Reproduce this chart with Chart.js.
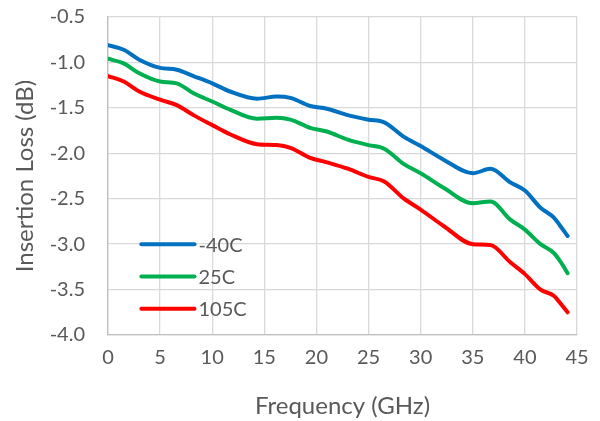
<!DOCTYPE html>
<html lang="en">
<head>
    <meta charset="UTF-8">
    <title>Insertion Loss vs Frequency</title>
    <script src="https://cdn.jsdelivr.net/npm/chart.js"></script>
    <style>
        html, body { margin: 0; padding: 0; background: #fff; }
        .chart-container { width: 600px; height: 421px; position: relative; }
    </style>
</head>
<body>
    <div class="chart-container">
        <canvas id="ilChart"></canvas>
    </div>

    <script>
        // frequency points (GHz) and insertion loss (dB) per temperature
        const freq = [0, 1.5, 3, 5, 6.6, 8.2, 10, 11.7, 14.3, 16.2, 17.5, 19.4, 21, 23, 25, 26.5, 28.4, 30, 32.2, 35, 36.7, 38.6, 40, 41.5, 42.8, 43.4, 44.1];
        const lossM40 = [-0.81, -0.86, -0.97, -1.06, -1.08, -1.15, -1.23, -1.32, -1.40, -1.375, -1.39, -1.48, -1.51, -1.58, -1.63, -1.66, -1.82, -1.92, -2.07, -2.22, -2.17, -2.32, -2.41, -2.60, -2.71, -2.80, -2.91];
        const loss25 = [-0.96, -1.01, -1.12, -1.21, -1.23, -1.34, -1.43, -1.52, -1.62, -1.61, -1.63, -1.72, -1.76, -1.85, -1.91, -1.95, -2.12, -2.22, -2.38, -2.55, -2.53, -2.73, -2.84, -3.00, -3.10, -3.19, -3.32];
        const loss105 = [-1.15, -1.21, -1.32, -1.41, -1.47, -1.58, -1.69, -1.79, -1.90, -1.91, -1.94, -2.05, -2.10, -2.17, -2.26, -2.31, -2.50, -2.62, -2.80, -3.00, -3.01, -3.20, -3.33, -3.50, -3.57, -3.65, -3.75];
        const seriesNames = ['-40C', '25C', '105C'];
        const xTicks = [0, 5, 10, 15, 20, 25, 30, 35, 40, 45];
        const yTicks = [-0.5, -1.0, -1.5, -2.0, -2.5, -3.0, -3.5, -4.0];

        const colors = ['#0070C0', '#00B050', '#FF0000'];
        const textColor = '#595959';
        const fontFamily = 'Lato, "Open Sans", sans-serif';

        function toPoints(ys) {
            return freq.map((f, i) => ({ x: f, y: ys[i] }));
        }

        // legend drawn inside the plot area, lower left
        const insideLegend = {
            id: 'insideLegend',
            afterDraw(chart) {
                const ctx = chart.ctx;
                const xs = chart.scales.x, ys = chart.scales.y;
                ctx.save();
                ctx.font = '20px ' + fontFamily;
                ctx.textBaseline = 'middle';
                chart.data.datasets.forEach((ds, i) => {
                    const y = ys.getPixelForValue(-3.0 + i * -0.355);
                    const x0 = xs.getPixelForValue(3.2);
                    const x1 = xs.getPixelForValue(8.3);
                    ctx.strokeStyle = ds.borderColor;
                    ctx.lineWidth = 4;
                    ctx.lineCap = 'round';
                    ctx.beginPath();
                    ctx.moveTo(x0, y);
                    ctx.lineTo(x1, y);
                    ctx.stroke();
                    ctx.fillStyle = textColor;
                    ctx.fillText(ds.label, x1 + 4, y + 1);
                });
                ctx.restore();
            }
        };

        const ctx = document.getElementById('ilChart').getContext('2d');
        new Chart(ctx, {
            type: 'line',
            data: {
                datasets: [lossM40, loss25, loss105].map((d, i) => ({
                    label: seriesNames[i],
                    data: toPoints(d),
                    borderColor: colors[i],
                    backgroundColor: colors[i],
                    borderWidth: 4,
                    pointRadius: 0,
                    tension: 0.4,
                    cubicInterpolationMode: 'monotone',
                    borderCapStyle: 'round'
                }))
            },
            options: {
                responsive: true,
                maintainAspectRatio: false,
                animation: false,
                layout: { padding: { top: 17, right: 23, left: 0, bottom: 0 } },
                plugins: {
                    legend: { display: false },
                    tooltip: { enabled: false }
                },
                scales: {
                    x: {
                        type: 'linear',
                        min: 0, max: 45,
                        afterBuildTicks: s => { s.ticks = xTicks.map(v => ({ value: v })); },
                        afterFit: s => { s.height = 86; },
                        // tickLength (invisible) spaces the labels; ticks.padding would also pad the plot
                        grid: { color: '#D9D9D9', lineWidth: 1.3, tickLength: 11, tickColor: 'rgba(0,0,0,0)' },
                        border: { color: '#BFBFBF', width: 1.3 },
                        ticks: { color: textColor, font: { family: fontFamily, size: 20 }, padding: 0, maxRotation: 0 },
                        title: { display: true, text: 'Frequency (GHz)', color: textColor, font: { family: fontFamily, size: 24 }, padding: 0 }
                    },
                    y: {
                        min: -4.0, max: -0.5,
                        afterBuildTicks: s => { s.ticks = yTicks.map(v => ({ value: v })); },
                        afterFit: s => { s.width = 108; },
                        grid: { color: '#D9D9D9', lineWidth: 1.3, tickLength: 23, tickColor: 'rgba(0,0,0,0)' },
                        border: { color: '#BFBFBF', width: 1.3 },
                        ticks: { color: textColor, font: { family: fontFamily, size: 20 }, padding: 0, callback: v => v.toFixed(1) },
                        title: { display: true, text: 'Insertion Loss (dB)', color: textColor, font: { family: fontFamily, size: 24 }, padding: { top: 11, bottom: 0 } }
                    }
                }
            },
            plugins: [insideLegend]
        });
    </script>
</body>
</html>
